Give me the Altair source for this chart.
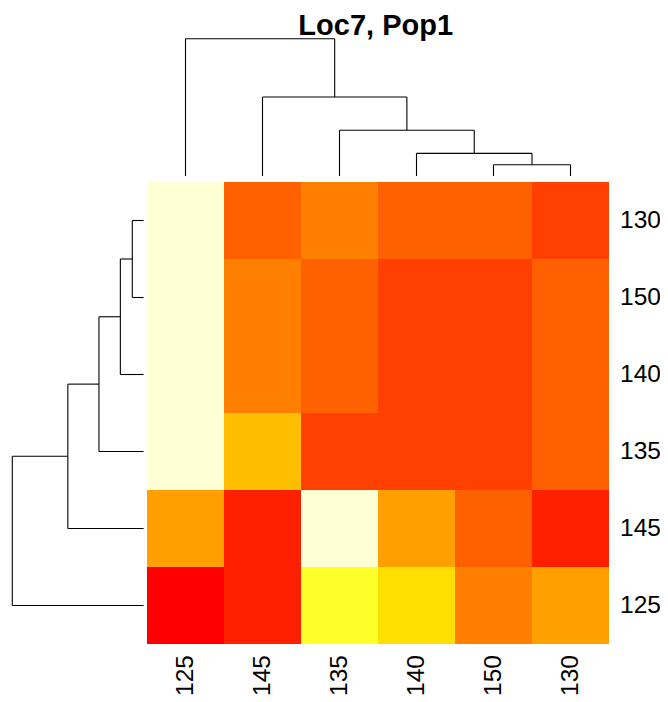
import altair as alt
import pandas as pd

# ---------------- data ----------------
title_text = "Loc7, Pop1"
col_labels = ["125", "145", "135", "140", "150", "130"]
row_labels = ["130", "150", "140", "135", "145", "125"]   # top -> bottom
# colour level (index into heat.colors(12)) per cell, rows top -> bottom
row_130 = [11, 3, 4, 3, 3, 2]
row_150 = [11, 4, 3, 2, 2, 3]
row_140 = [11, 4, 3, 2, 2, 3]
row_135 = [11, 6, 2, 2, 2, 3]
row_145 = [5, 1, 11, 5, 3, 1]
row_125 = [0, 1, 9, 7, 4, 5]
levels = [row_130, row_150, row_140, row_135, row_145, row_125]
palette = ["#FF0000", "#FF2000", "#FF4000", "#FF6000", "#FF8000", "#FF9F00",
           "#FFBF00", "#FFDF00", "#FFFF00", "#FFFF2A", "#FFFF80", "#FFFFD5"]

# dendrogram merges: (child a, child b, relative height); ("L", i) leaf at order i, ("N", k) k-th merge
col_merges = [(("L", 4), ("L", 5), 0.082), (("L", 3), ("N", 0), 0.165),
              (("L", 2), ("N", 1), 0.333), (("L", 1), ("N", 2), 0.575),
              (("L", 0), ("N", 3), 1.0)]
row_merges = [(("L", 0), ("L", 1), 0.086), (("L", 2), ("N", 0), 0.177),
              (("L", 3), ("N", 1), 0.340), (("L", 4), ("N", 2), 0.577),
              (("L", 5), ("N", 3), 1.0)]

# ---------------- layout (cell units) ----------------
PX = 77.0
XMIN, XMAX = -139 / PX, -139 / PX + 652 / PX
YMAX = 6 + 174 / PX
YMIN = YMAX - 690 / PX
COL_BASE, COL_SPAN = 6 / PX, 137.3 / PX
ROW_BASE, ROW_SPAN = 3.4 / PX, 131.3 / PX
LABEL_GAP = 11 / PX
FONT = "Liberation Sans"

xs = alt.Scale(domain=[XMIN, XMAX], nice=False, zero=False)
ys = alt.Scale(domain=[YMIN, YMAX], nice=False, zero=False)


def dendro_segments(merges):
    pos, hgt, segs = [], [], []

    def node(c):
        if c[0] == "L":
            return c[1], 0.0
        return pos[c[1]], hgt[c[1]]

    for a, b, h in merges:
        pa, ha = node(a)
        pb, hb = node(b)
        segs.append((pa, pb, h, h))
        segs.append((pa, pa, ha, h))
        segs.append((pb, pb, hb, h))
        pos.append((pa + pb) / 2)
        hgt.append(h)
    return segs


cells = []
for r, rl in enumerate(row_labels):
    for c, cl in enumerate(col_labels):
        cells.append({"x": c, "x2": c + 1, "y": 5 - r, "y2": 6 - r,
                      "level": levels[r][c], "row": rl, "col": cl})
cells_df = pd.DataFrame(cells)

segs = []
for p1, p2, h1, h2 in dendro_segments(col_merges):
    segs.append({"x": p1 + 0.5, "x2": p2 + 0.5,
                 "y": 6 + COL_BASE + h1 * COL_SPAN, "y2": 6 + COL_BASE + h2 * COL_SPAN})
for p1, p2, h1, h2 in dendro_segments(row_merges):
    segs.append({"y": 5.5 - p1, "y2": 5.5 - p2,
                 "x": -(ROW_BASE + h1 * ROW_SPAN), "x2": -(ROW_BASE + h2 * ROW_SPAN)})
segs_df = pd.DataFrame(segs)

row_lab_df = pd.DataFrame({"t": row_labels, "x": [6 + LABEL_GAP] * 6,
                           "y": [5.5 - i for i in range(6)]})
col_lab_df = pd.DataFrame({"t": col_labels, "x": [i + 0.5 for i in range(6)],
                           "y": [-LABEL_GAP] * 6})
title_df = pd.DataFrame({"t": [title_text], "x": [2.97], "y": [6 + 147.5 / PX]})

cscale = alt.Scale(domain=list(range(12)), range=palette)
heat = alt.Chart(cells_df).mark_rect(strokeWidth=0, opacity=1).encode(
    x=alt.X("x:Q", scale=xs, axis=None), x2="x2:Q",
    y=alt.Y("y:Q", scale=ys, axis=None), y2="y2:Q",
    color=alt.Color("level:O", scale=cscale, legend=None),
)

dendro = alt.Chart(segs_df).mark_rule(color="#000000", strokeWidth=1.1).encode(
    x=alt.X("x:Q", scale=xs, axis=None), x2="x2:Q",
    y=alt.Y("y:Q", scale=ys, axis=None), y2="y2:Q",
)

row_text = alt.Chart(row_lab_df).mark_text(
    align="left", baseline="middle", font=FONT, fontSize=24.5, color="#000000"
).encode(x=alt.X("x:Q", scale=xs, axis=None), y=alt.Y("y:Q", scale=ys, axis=None), text="t:N")

col_text = alt.Chart(col_lab_df).mark_text(
    align="right", baseline="middle", angle=270, font=FONT, fontSize=24.5, color="#000000"
).encode(x=alt.X("x:Q", scale=xs, axis=None), y=alt.Y("y:Q", scale=ys, axis=None), text="t:N")

title = alt.Chart(title_df).mark_text(
    align="center", baseline="alphabetic", font=FONT, fontSize=29, fontWeight="bold", color="#000000"
).encode(x=alt.X("x:Q", scale=xs, axis=None), y=alt.Y("y:Q", scale=ys, axis=None), text="t:N")

chart = alt.layer(heat, dendro, row_text, col_text, title).properties(
    width=652, height=690, padding=0, autosize=alt.AutoSizeParams(type="none")
).configure_view(stroke=None)

chart.save("out.html", embed_options={"renderer": "svg", "actions": False})
